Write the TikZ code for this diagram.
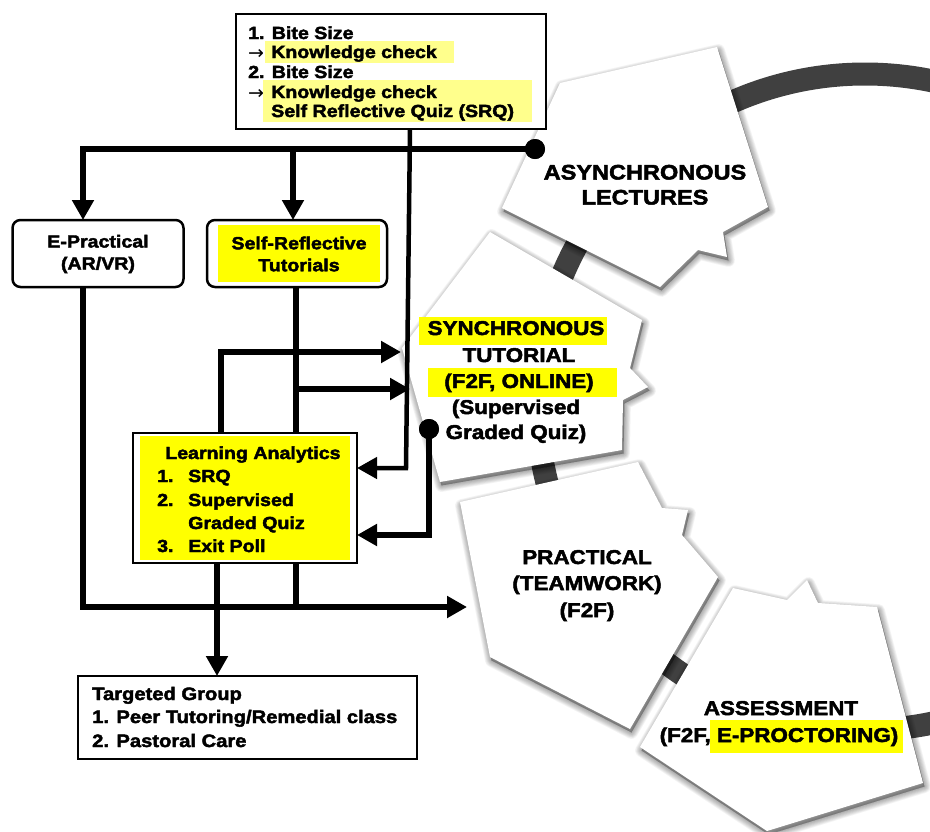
\documentclass[tikz,border=0pt]{standalone}
\usepackage{fontspec}
\setmainfont{Liberation Sans}[BoldFeatures={FakeStretch=1.12,FakeBold=2.4}]
\newfontfamily\arrowfont{DejaVu Sans}
\usetikzlibrary{arrows.meta}
\definecolor{hlpale}{HTML}{FFFF8C}
\definecolor{hlyel}{HTML}{FFFF00}
\definecolor{ringc}{HTML}{404040}
\newcommand\myfs[2]{\fontsize{#1}{#2}\selectfont}
\begin{document}
\begin{tikzpicture}[x=1pt,y=-1pt,
  conn/.style={line width=6pt},
  thinconn/.style={line width=4.5pt},
  tip/.style={-{Triangle[length=20pt,width=21pt]}},
  box/.style={draw, line width=2.5pt, fill=white, inner sep=0pt},
  rbox/.style={box, rounded corners=8pt},
  dot/.style={circle, fill=black, inner sep=0pt, minimum size=20pt},
  tx/.style={inner sep=0pt, anchor=base west, font=\bfseries\myfs{17.5}{20}},
  arx/.style={inner sep=0pt, anchor=base west, font=\arrowfont\myfs{19}{20}},
  tgx/.style={inner sep=0pt, anchor=base west, font=\bfseries\myfs{18}{20}},
  ptx/.style={inner sep=0pt, anchor=base, font=\bfseries\myfs{20}{24}},
  ptxb/.style={inner sep=0pt, anchor=base, font=\bfseries\myfs{21}{24}},
  shad/.style={black, opacity=0.045, line join=round, shift={(1.5,3.5)}}]
\useasboundingbox (0,0) rectangle (930,831);
\clip (0,0) rectangle (930,831);
\fill[white] (0,0) rectangle (930,831);
% ring
\draw[ringc, line width=23pt] (865,402) circle[radius=328];
% pentagons
\def\pathAsync{(560,83) -- (717,47) -- (768,207) -- (723,232) -- (727,257) -- (698,250) -- (660,287) -- (502,208) -- cycle}
\def\pathSync{(490,232) -- (642,320) -- (630,368) -- (648,387) -- (623,400) -- (622,450) -- (440,482) -- (402,348) -- cycle}
\def\pathPrac{(460,502) -- (638,462) -- (662,508) -- (688,510) -- (682,535) -- (718,577) -- (630,729) -- (490,657) -- cycle}
\def\pathAss{(733,588) -- (787,600) -- (807,580) -- (818,603) -- (877,607) -- (923,783) -- (767,831) -- (640,747) -- cycle}
\foreach \i in {1,...,8} {\filldraw[shad, line width=1.6*\i pt] \pathAsync;}
\fill[white] \pathAsync;
\foreach \i in {1,...,8} {\filldraw[shad, line width=1.6*\i pt] \pathSync;}
\fill[white] \pathSync;
\foreach \i in {1,...,8} {\filldraw[shad, line width=1.6*\i pt] \pathPrac;}
\fill[white] \pathPrac;
\foreach \i in {1,...,8} {\filldraw[shad, line width=1.6*\i pt] \pathAss;}
\fill[white] \pathAss;
% pentagon texts
\node[ptxb] (asy1) at (645,179.5) {ASYNCHRONOUS};
\node[ptxb] (asy2) at (645,204.5) {LECTURES};
\fill[hlyel] (419,317) rectangle (607,345);
\fill[hlyel] (428,368) rectangle (617,397);
\node[ptx] (syn1) at (516,335) {SYNCHRONOUS};
\node[ptx] (syn2) at (519,362) {TUTORIAL};
\node[ptx] (syn3) at (519,388) {(F2F, ONLINE)};
\node[ptx] (syn4) at (516,414) {(Supervised};
\node[ptx] (syn5) at (516,439) {Graded Quiz)};
\node[ptx] (pr1) at (587,564) {PRACTICAL};
\node[ptx] (pr2) at (587,590) {(TEAMWORK)};
\node[ptx] (pr3) at (587,617) {(F2F)};
\fill[hlyel] (710,720) rectangle (903,753);
\node[ptx] (as1) at (781,715) {ASSESSMENT};
\node[ptx] (as2) at (779,742) {(F2F, E-PROCTORING)};
% top box
\node[box, minimum width=310pt, minimum height=115pt] (top) at (391,71.5) {};
\fill[hlpale] (265,41) rectangle (454,63);
\fill[hlpale] (263,80) rectangle (532,122);
\node[tx] (l1) at (248,39) {1. Bite Size};
\node[arx] (a1) at (248,59) {→};
\node[tx] (l2) at (271,58) {Knowledge check};
\node[tx] (l3) at (248,78) {2. Bite Size};
\node[arx] (a2) at (248,99) {→};
\node[tx] (l4) at (271,98) {Knowledge check};
\node[tx] (l5) at (271,117) {Self Reflective Quiz (SRQ)};
% E-practical and self-reflective
\node[rbox, minimum width=171pt, minimum height=67pt] (ep) at (98,253.5) {};
\node[inner sep=0pt, align=center, font=\bfseries\myfs{17.5}{22}] (ept) at (98,254) {E-Practical\\(AR/VR)};
\node[rbox, minimum width=180pt, minimum height=67pt] (sr) at (297,253.5) {};
\fill[hlyel] (218,225) rectangle (380,282);
\node[inner sep=0pt, align=center, font=\bfseries\myfs{17.5}{22}] (srt) at (299,254) {Self-Reflective\\Tutorials};
% connector coordinates
\node[dot] (d1) at (535,149) {};
\coordinate (b1) at (83,149);
\coordinate (epIn) at (83,220);
\coordinate (b2) at (293,149);
\coordinate (srIn) at (293,220);
\coordinate (tbOut) at (410,129);
\coordinate (tbCorner) at (406,468);
\coordinate (laIn1) at (357,468);
\node[dot] (d2) at (429,429) {};
\coordinate (d2c) at (429,535);
\coordinate (laIn2) at (357,535);
\coordinate (epOut) at (83,287);
\coordinate (busB) at (83,607);
\coordinate (pracIn) at (467,607);
\coordinate (srOut) at (296,287);
\coordinate (srB) at (296,607);
\coordinate (srBr) at (296,389);
\coordinate (syncIn2) at (410,389);
\coordinate (laTop) at (221,433);
\coordinate (laUp) at (221,352);
\coordinate (syncIn1) at (401,352);
\coordinate (laBot) at (217,563);
\coordinate (tgIn) at (217,676);
% connectors
\draw[conn, tip] (d1.center) -- (b1) -- (epIn);
\draw[conn, tip] (b2) -- (srIn);
\draw[thinconn, tip] (tbOut) -- (tbCorner) -- (laIn1);
\draw[conn, tip] (d2.center) -- (d2c) -- (laIn2);
\draw[conn, tip] (epOut) -- (busB) -- (pracIn);
\draw[conn] (srOut) -- (srB);
\draw[conn, tip] (srBr) -- (syncIn2);
\draw[conn, tip] (laTop) -- (laUp) -- (syncIn1);
\draw[conn, tip] (laBot) -- (tgIn);
\node[dot] at (d1) {};
\node[dot] at (d2) {};
% learning analytics
\node[box, minimum width=224pt, minimum height=130pt] (la) at (245,498) {};
\fill[hlyel] (140,436) rectangle (350,560);
\node[tx] (la0) at (165,459) {Learning Analytics};
\node[tx] (la1n) at (157,482) {1.};
\node[tx] (la1) at (188,482) {SRQ};
\node[tx] (la2n) at (157,506) {2.};
\node[tx] (la2) at (188,506) {Supervised};
\node[tx] (la3) at (188,529) {Graded Quiz};
\node[tx] (la4n) at (157,552) {3.};
\node[tx] (la4) at (188,552) {Exit Poll};
% targeted group
\node[box, minimum width=339pt, minimum height=83pt] (tg) at (247.5,717.5) {};
\node[tgx] (tg1) at (92,700) {Targeted Group};
\node[tgx] (tg2) at (92,723) {1. Peer Tutoring/Remedial class};
\node[tgx] (tg3) at (92,747) {2. Pastoral Care};
\end{tikzpicture}
\end{document}
